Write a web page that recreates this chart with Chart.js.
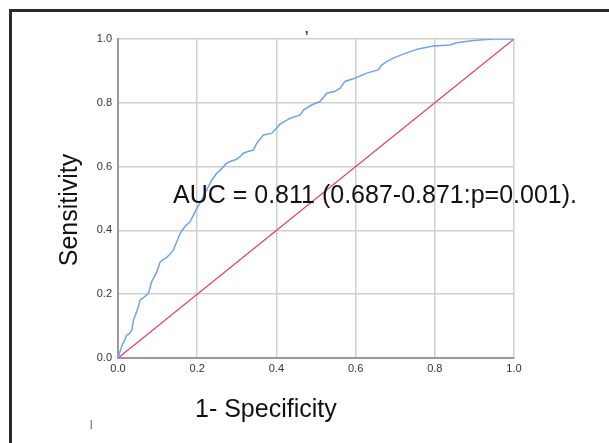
<!DOCTYPE html>
<html>
<head>
<meta charset="utf-8">
<script src="https://cdn.jsdelivr.net/npm/chart.js@4.4.0/dist/chart.umd.min.js"></script>
<style>
    html, body { margin: 0; padding: 0; background: #ffffff; }
    #wrap { width: 609px; height: 443px; position: relative; }
</style>
</head>
<body>
<div id="wrap"><canvas id="rocChart" width="609" height="443"></canvas></div>
<script>
// ROC curve (1 - specificity, sensitivity)
const fprValues = [0, 0.005, 0.012, 0.015, 0.022, 0.028, 0.035, 0.039, 0.047, 0.051,
    0.056, 0.065, 0.077, 0.085, 0.098, 0.106, 0.112, 0.123, 0.131, 0.14,
    0.157, 0.169, 0.182, 0.199, 0.211, 0.224, 0.237, 0.249, 0.258, 0.274,
    0.283, 0.298, 0.308, 0.316, 0.33, 0.342, 0.35, 0.367, 0.388, 0.4,
    0.409, 0.434, 0.46, 0.468, 0.489, 0.51, 0.527, 0.548, 0.561, 0.573,
    0.598, 0.628, 0.657, 0.666, 0.678, 0.695, 0.725, 0.758, 0.796, 0.838,
    0.855, 0.897, 0.948, 1];
const tprValues = [0, 0.02, 0.046, 0.05, 0.072, 0.075, 0.088, 0.119, 0.145, 0.16,
    0.182, 0.19, 0.203, 0.239, 0.27, 0.3, 0.307, 0.315, 0.325, 0.339,
    0.391, 0.412, 0.427, 0.469, 0.495, 0.527, 0.558, 0.579, 0.589, 0.61,
    0.616, 0.622, 0.631, 0.642, 0.648, 0.652, 0.673, 0.699, 0.704, 0.72,
    0.733, 0.751, 0.762, 0.777, 0.793, 0.804, 0.83, 0.836, 0.846, 0.867,
    0.877, 0.893, 0.903, 0.918, 0.929, 0.94, 0.955, 0.969, 0.978, 0.981,
    0.988, 0.995, 1.0, 1];

// Reference (chance) line
const refX = [0, 1];
const refY = [0, 1];

const tickValues = [0, 0.2, 0.4, 0.6, 0.8, 1.0];

const aucText = 'AUC = 0.811 (0.687-0.871:p=0.001).';
const xTitle = '1- Specificity';
const yTitle = 'Sensitivity';

const labelFont = '25px "Liberation Sans", Arial, sans-serif';

// Page frame and free text drawn on the canvas
const extrasPlugin = {
    id: 'extras',
    beforeDraw(chart) {
        const ctx = chart.ctx;
        ctx.save();
        ctx.fillStyle = '#2b2b2b';
        ctx.fillRect(9, 9, 600, 3);
        ctx.fillRect(9, 9, 3, 434);
        ctx.restore();
    },
    afterDraw(chart) {
        const ctx = chart.ctx;
        ctx.save();
        ctx.fillStyle = '#111111';
        ctx.font = labelFont;
        ctx.textBaseline = 'alphabetic';
        ctx.textAlign = 'left';
        ctx.fillText(aucText, 173, 203);
        ctx.fillText(xTitle, 195, 417);

        ctx.translate(77, 210);
        ctx.rotate(-Math.PI / 2);
        ctx.textAlign = 'center';
        ctx.fillText(yTitle, 0, 0);
        ctx.restore();

        // small stray marks in the original
        ctx.save();
        ctx.fillStyle = '#222';
        ctx.font = 'bold 12px "Liberation Sans", Arial, sans-serif';
        ctx.fillText(',', 305, 33);
        ctx.font = '9px "Liberation Sans", Arial, sans-serif';
        ctx.fillText('|', 90, 427);
        ctx.restore();
    }
};

function buildPoints(xs, ys) {
    return xs.map((x, i) => ({ x: x, y: ys[i] }));
}

document.addEventListener('DOMContentLoaded', function() {
    const ctx = document.getElementById('rocChart').getContext('2d');

    const axisCommon = {
        type: 'linear',
        min: 0,
        max: 1,
        afterBuildTicks: function(scale) {
            scale.ticks = tickValues.map(v => ({ value: v }));
        },
        grid: {
            color: '#cfcfcf',
            lineWidth: 1.5,
            drawTicks: false
        },
        border: {
            display: true,
            color: '#9a9a9a',
            width: 2
        },
        ticks: {
            color: '#333333',
            font: { family: '"Liberation Sans", Arial, sans-serif', size: 11 },
            callback: function(value) {
                return Number(value).toFixed(1);
            }
        }
    };

    new Chart(ctx, {
        type: 'scatter',
        data: {
            datasets: [
                {
                    label: 'ROC',
                    data: buildPoints(fprValues, tprValues),
                    showLine: true,
                    borderColor: '#6fa4ea',
                    borderWidth: 1.5,
                    pointRadius: 0,
                    tension: 0,
                    fill: false
                },
                {
                    label: 'Reference',
                    data: buildPoints(refX, refY),
                    showLine: true,
                    borderColor: '#e2406a',
                    borderWidth: 1.3,
                    pointRadius: 0,
                    fill: false
                }
            ]
        },
        options: {
            responsive: false,
            animation: false,
            layout: {
                padding: { top: 39, right: 95, left: 0, bottom: 0 }
            },
            plugins: {
                legend: { display: false },
                tooltip: { enabled: false }
            },
            scales: {
                x: Object.assign({}, axisCommon, {
                    afterFit: function(scale) { scale.height = 85; },
                    ticks: Object.assign({}, axisCommon.ticks, { padding: 4 })
                }),
                y: Object.assign({}, axisCommon, {
                    afterFit: function(scale) { scale.width = 118; },
                    ticks: Object.assign({}, axisCommon.ticks, { padding: 6 })
                })
            }
        },
        plugins: [extrasPlugin]
    });
});
</script>
</body>
</html>
